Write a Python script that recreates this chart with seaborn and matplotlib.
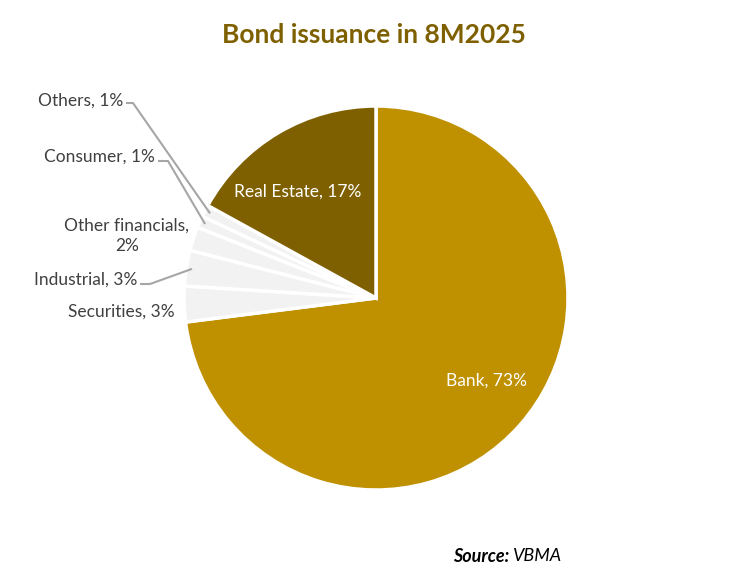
import numpy as np
import matplotlib
matplotlib.use("Agg")
import matplotlib.pyplot as plt
import seaborn as sns

sns.set_theme(style="white")
plt.rcParams['font.family'] = ['Lato', 'DejaVu Sans']

categories = ["Bank", "Securities", "Industrial", "Other financials", "Consumer", "Others", "Real Estate"]
values = [73, 3, 3, 2, 1, 1, 17]
colors = ["#BF9000", "#F2F2F2", "#F2F2F2", "#F2F2F2", "#F2F2F2", "#F2F2F2", "#7F6000"]
label_texts = ["Bank, 73%", "Securities, 3%", "Industrial, 3%", "Other financials,\n2%",
               "Consumer, 1%", "Others, 1%", "Real Estate, 17%"]

W, H = 750, 580
CX, CY, R = 376, 298, 192

fig = plt.figure(figsize=(W / 100, H / 100), dpi=100)
ax = fig.add_axes([0, 0, 1, 1])

def px(x, y):
    return ((x - CX) / R, (CY - y) / R)

wedges, _ = ax.pie(values, colors=colors, startangle=90, counterclock=False,
                   wedgeprops=dict(edgecolor="white", linewidth=2.5))
ax.set_xlim(-CX / R, (W - CX) / R)
ax.set_ylim((CY - H) / R, CY / R)
ax.set_aspect("equal")
ax.axis("off")

def mid(w, r=1.0):
    a = np.deg2rad((w.theta1 + w.theta2) / 2)
    return r * np.cos(a), r * np.sin(a)

txt_col = "#404040"
line_col = "#A6A6A6"
fs = 12.5

# inside labels
ax.text(*px(487, 381), label_texts[0], color="white", fontsize=fs, ha="center", va="center")
ax.text(*px(298, 192), label_texts[6], color="white", fontsize=fs, ha="center", va="center")

# outside labels: (text anchor px, ha, elbow px or None)
outside = {
    1: ((175, 312), None),
    2: ((137, 280), (150, 284)),
    3: ((127, 236), None),
    4: ((155, 157), (168, 161)),
    5: ((123, 101), (133, 103)),
}
for i, ((tx, ty), elbow) in outside.items():
    if i == 3:
        ax.text(*px(tx, ty), label_texts[i], color=txt_col, fontsize=fs, ha="center",
                va="center", linespacing=1.35)
    else:
        ax.text(*px(tx, ty), label_texts[i], color=txt_col, fontsize=fs, ha="right", va="center")
    if elbow is not None:
        ex, ey = px(*elbow)
        sx, sy = px(tx + 3, elbow[1])
        mx, my = mid(wedges[i], 0.97)
        ax.plot([sx, ex, mx], [sy, ey, my], color=line_col, lw=1.5, solid_capstyle="butt")

fig.text(374 / W, 1 - 35 / H, "Bond issuance in 8M2025", color="#7F6000", fontsize=19,
         fontweight="bold", ha="center", va="center")

t1 = fig.text(453 / W, 1 - 556 / H, "Source:", fontsize=13, fontweight="bold",
              fontstyle="italic", color="black", ha="left", va="center")
fig.canvas.draw()
bb = t1.get_window_extent(renderer=fig.canvas.get_renderer())
fig.text((bb.x1 + 3) / W, 1 - 556 / H, "VBMA", fontsize=13, fontstyle="italic",
         color="black", ha="left", va="center")

fig.savefig("out.png", dpi=100, facecolor="white")
